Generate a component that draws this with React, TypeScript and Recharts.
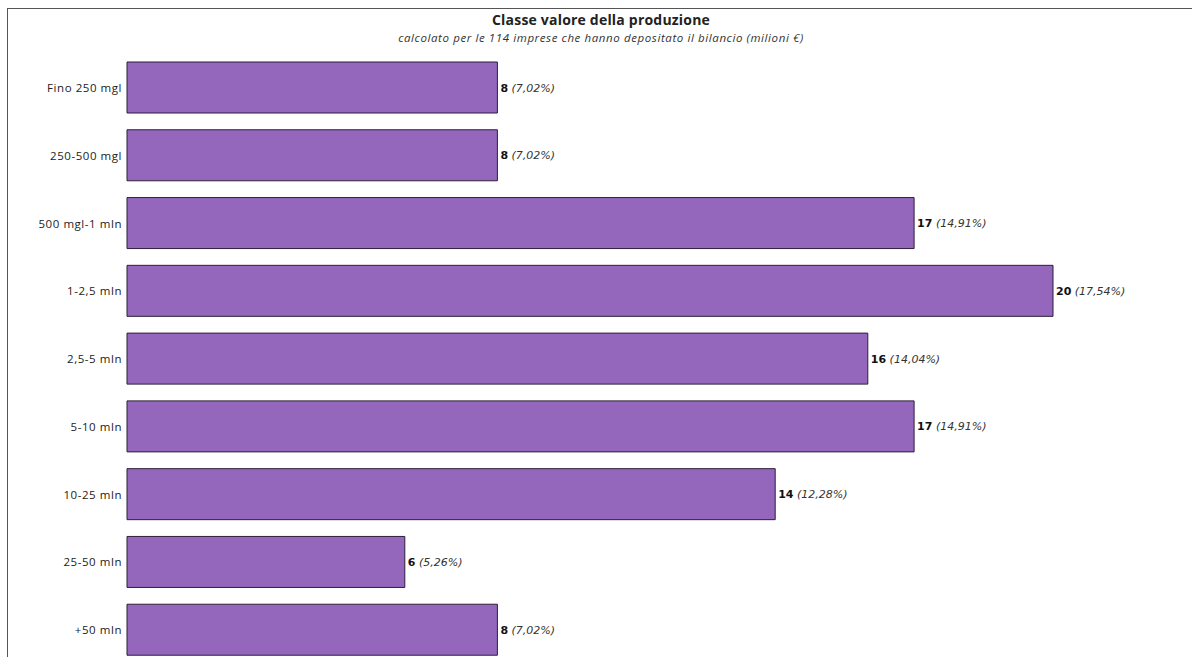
import React from 'react';
import { BarChart, Bar, XAxis, YAxis, LabelList } from 'recharts';

const categories = ['Fino 250 mgl', '250-500 mgl', '500 mgl-1 mln', '1-2,5 mln', '2,5-5 mln', '5-10 mln', '10-25 mln', '25-50 mln', '+50 mln'];
const counts = [8, 8, 17, 20, 16, 17, 14, 6, 8];
const percents = ['7,02%', '7,02%', '14,91%', '17,54%', '14,04%', '14,91%', '12,28%', '5,26%', '7,02%'];

const data = categories.map((name, i) => ({ name, value: counts[i], pct: percents[i] }));

const renderLabel = (props: any) => {
  const { x, y, width, height, index } = props;
  return (
    <text x={x + width + 3} y={y + height / 2} dy={4} fontFamily="'DejaVu Sans', Verdana, sans-serif" fontSize={11} fill="#111">
      <tspan fontWeight="bold">{counts[index]}</tspan>
      <tspan fontStyle="italic" fill="#333">{' (' + percents[index] + ')'}</tspan>
    </text>
  );
};

export default function App() {
  return (
    <div style={{ position: 'absolute', left: 0, top: 0, width: 1192, height: 657, overflow: 'hidden', background: '#fff', fontFamily: "'Open Sans', sans-serif" }}>
      <div style={{ position: 'absolute', left: 7, top: 8, width: 1200, height: 700, borderLeft: '1.5px solid #555', borderTop: '1.5px solid #555' }} />
      <div style={{ position: 'absolute', left: 0, top: 10, width: 1202, textAlign: 'center', fontSize: 14, letterSpacing: 0.2, fontWeight: 'bold', color: '#222' }}>
        Classe valore della produzione
      </div>
      <div style={{ position: 'absolute', left: 0, top: 30, width: 1202, textAlign: 'center', fontSize: 11.5, letterSpacing: 0.6, fontStyle: 'italic', color: '#333' }}>
        calcolato per le 114 imprese che hanno depositato il bilancio (milioni €)
      </div>
      <div style={{ position: 'absolute', left: 0, top: 0 }}>
        <BarChart width={1192} height={664} data={data} layout="vertical" margin={{ top: 54, right: 139, bottom: 0, left: 0 }}>
          <XAxis type="number" domain={[0, 20]} hide />
          <YAxis
            type="category"
            dataKey="name"
            width={127}
            axisLine={false}
            tickLine={false}
            tickSize={0}
            tickMargin={5}
            tick={{ fontSize: 11.5, letterSpacing: 0.55, fill: '#222', fontFamily: "'Open Sans', sans-serif" }}
          />
          <Bar dataKey="value" barSize={51} fill="#9467bd" stroke="#2b1f3a" strokeWidth={1} isAnimationActive={false}>
            <LabelList dataKey="value" content={renderLabel} />
          </Bar>
        </BarChart>
      </div>
    </div>
  );
}
